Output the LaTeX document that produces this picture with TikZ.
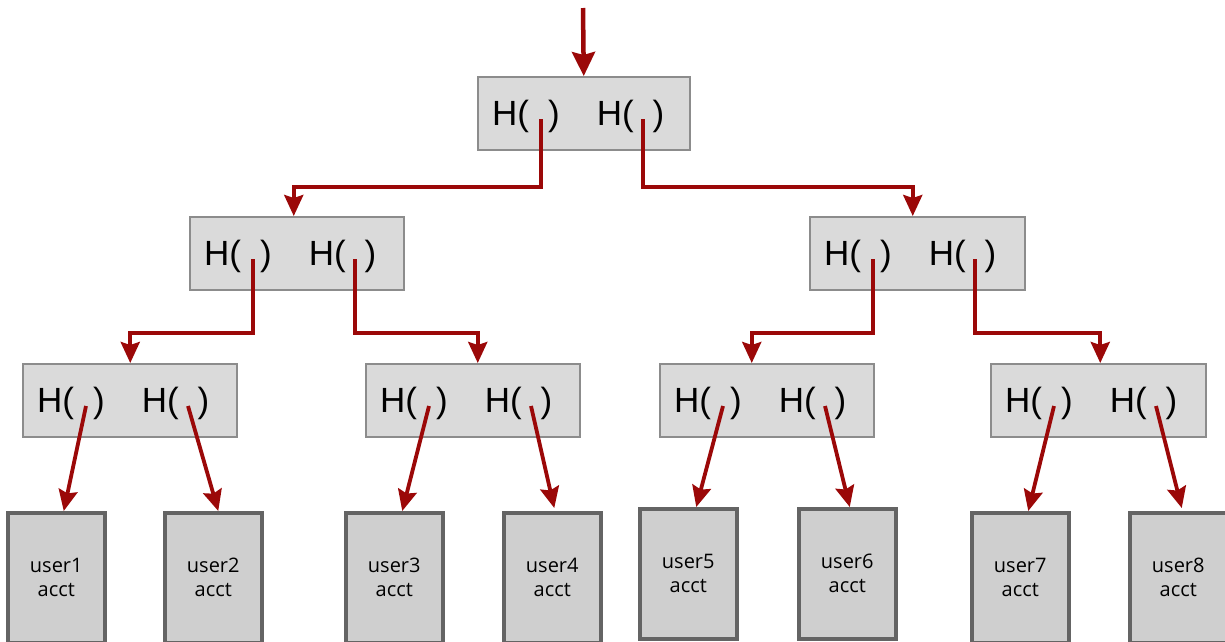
\documentclass[tikz,border=0pt]{standalone}
\usepackage{fontspec}
\setmainfont{Liberation Sans}
\newfontfamily\leaffont{Open Sans}
\usetikzlibrary{arrows.meta,calc}
\definecolor{arrowred}{RGB}{155,8,8}
\definecolor{hfill}{RGB}{218,218,218}
\definecolor{hdraw}{RGB}{140,140,140}
\definecolor{lfill}{RGB}{207,207,207}
\definecolor{ldraw}{RGB}{100,100,100}
\newcommand\HashBox[4]{%
  \node[hashbox, minimum width=#4pt, anchor=north west] (#1) at (#2,#3) {};
  \node[htext, anchor=base west] (#1t) at ($(#1.north west)+(15,49)$) {H(\hspace{19pt})\hspace{37pt}H(\hspace{19pt})};
  \coordinate (#1L) at ($(#1.north west)+(64,43)$);
  \coordinate (#1R) at ($(#1.north west)+(166,43)$);
}
\begin{document}
\begin{tikzpicture}[x=1pt,y=-1pt,
  hashbox/.style={draw=hdraw, fill=hfill, line width=1.5pt, rectangle, inner sep=0pt, minimum height=73pt},
  htext/.style={inner sep=0pt, font=\fontsize{35}{40}\selectfont},
  leaf/.style={draw=ldraw, fill=lfill, line width=3.5pt, rectangle, inner sep=0pt, minimum width=97pt, minimum height=130pt, align=center, font=\leaffont\fontsize{20}{24}\selectfont},
  conn/.style={draw=arrowred, line width=3.8pt, -{Stealth[length=21pt,width=19pt,inset=3pt]}},
  bigconn/.style={draw=arrowred, line width=4.5pt, -{Stealth[length=24pt,width=23pt,inset=3pt]}}]
\useasboundingbox (0,0) rectangle (1225,641);
\fill[white] (0,0) rectangle (1225,641);
% hash boxes
\HashBox{top}{477}{76}{212}
\HashBox{La}{189}{216}{214}
\HashBox{Lb}{809}{216}{215}
\HashBox{Ma}{22}{363}{214}
\HashBox{Mb}{365}{363}{214}
\HashBox{Mc}{659}{363}{214}
\HashBox{Md}{990}{363}{215}
% leaves
\node[leaf, anchor=north west] (u1) at (6,511) {user1\\acct};
\node[leaf, anchor=north west] (u2) at (163,511) {user2\\acct};
\node[leaf, anchor=north west] (u3) at (344,511) {user3\\acct};
\node[leaf, anchor=north west] (u4) at (502,511) {user4\\acct};
\node[leaf, anchor=north west] (u5) at (638,507) {user5\\acct};
\node[leaf, anchor=north west] (u6) at (797,507) {user6\\acct};
\node[leaf, anchor=north west] (u7) at (970,511) {user7\\acct};
\node[leaf, anchor=north west] (u8) at (1128,511) {user8\\acct};
% incoming arrow
\coordinate (in) at (583,8);
\draw[bigconn] (in) -- (top.north);
% level 1 -> 2
\draw[conn] (topL) -- (topL |- 0,187) -| ([xshift=-3pt]La.north);
\draw[conn] (topR) -- (topR |- 0,187) -| ([xshift=-4.5pt]Lb.north);
% level 2 -> 3
\draw[conn] (LaL) -- (LaL |- 0,333) -| ([xshift=0.5pt]Ma.north);
\draw[conn] (LaR) -- (LaR |- 0,333) -| ([xshift=5pt]Mb.north);
\draw[conn] (LbL) -- (LbL |- 0,333) -| ([xshift=-15pt]Mc.north);
\draw[conn] (LbR) -- (LbR |- 0,333) -| ([xshift=2pt]Md.north);
% level 3 -> leaves
\draw[conn] (MaL) -- ([xshift=7.5pt]u1.north);
\draw[conn] (MaR) -- ([xshift=5pt]u2.north);
\draw[conn] (MbL) -- ([xshift=8pt]u3.north);
\draw[conn] (MbR) -- ([xshift=2pt,yshift=3pt]u4.north);
\draw[conn] (McL) -- ([xshift=8pt]u5.north);
\draw[conn] (McR) -- ([xshift=2.5pt]u6.north);
\draw[conn] (MdL) -- ([xshift=8pt]u7.north);
\draw[conn] (MdR) -- ([xshift=3.5pt,yshift=3pt]u8.north);
\end{tikzpicture}
\end{document}
